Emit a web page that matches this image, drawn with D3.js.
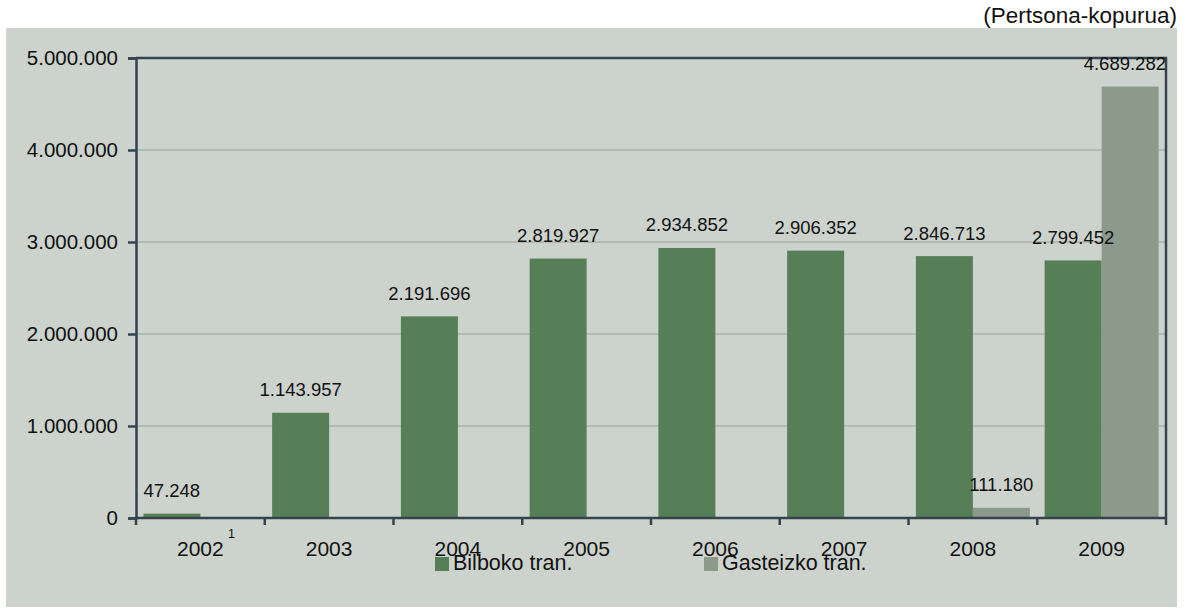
<!DOCTYPE html>
<html>
<head>
<meta charset="utf-8">
<script src="https://cdn.jsdelivr.net/npm/d3@7"></script>
<style>
  html, body { margin: 0; padding: 0; background: #ffffff; }
  svg { display: block; font-family: "Liberation Sans", Arial, sans-serif; }
</style>
</head>
<body>
<svg id="chart" width="1189" height="616"></svg>
<script>
// Tranbia bidaiariak urteka (pertsona-kopurua)
const years = ["2002", "2003", "2004", "2005", "2006", "2007", "2008", "2009"];
const bilbo = [47248, 1143957, 2191696, 2819927, 2934852, 2906352, 2846713, 2799452];
const gasteiz = [null, null, null, null, null, null, 111180, 4689282];
const seriesNames = ["Bilboko tran.", "Gasteizko tran."];
const seriesColors = ["#567e57", "#8b9a8a"];
const yTicks = [0, 1000000, 2000000, 3000000, 4000000, 5000000];

const W = 1189, H = 616;
const plot = { left: 136, right: 1166, top: 58, bottom: 518 };

const locale = d3.formatLocale({ decimal: ",", thousands: ".", grouping: [3], currency: ["", "€"] });
const fmt = locale.format(",d");

const svg = d3.select("#chart");

// chart panel
svg.append("rect")
  .attr("x", 6).attr("y", 28).attr("width", 1171).attr("height", 579)
  .attr("fill", "#ccd3cc");

// units title
svg.append("text")
  .attr("x", 1177).attr("y", 23)
  .attr("text-anchor", "end")
  .attr("font-size", 22.5)
  .attr("fill", "#111")
  .text("(Pertsona-kopurua)");

const x = d3.scaleBand().domain(years).range([plot.left, plot.right]).padding(0);
const xs = d3.scaleBand().domain([0, 1]).range([0, x.bandwidth()]).paddingInner(0).paddingOuter(0.13);
const y = d3.scaleLinear().domain([0, 5000000]).range([plot.bottom, plot.top]);

// horizontal gridlines
svg.append("g")
  .selectAll("line")
  .data(yTicks.filter(t => t > 0 && t < 5000000))
  .join("line")
  .attr("x1", plot.left).attr("x2", plot.right)
  .attr("y1", d => y(d)).attr("y2", d => y(d))
  .attr("stroke", "#9a9f9a").attr("stroke-width", 1);

// bars
const rows = years.map((yr, i) => ({ year: yr, values: [bilbo[i], gasteiz[i]] }));
const barData = rows.flatMap(r => r.values.map((v, s) => ({ year: r.year, s, v })))
  .filter(d => d.v != null);

svg.append("g")
  .selectAll("rect")
  .data(barData)
  .join("rect")
  .attr("x", d => x(d.year) + xs(d.s))
  .attr("width", xs.bandwidth())
  .attr("y", d => y(d.v))
  .attr("height", d => y(0) - y(d.v))
  .attr("fill", d => seriesColors[d.s]);

// frame on top and right
const axisColor = "#35434e";
svg.append("path")
  .attr("d", `M${plot.left},${plot.top}H${plot.right}V${plot.bottom}`)
  .attr("fill", "none").attr("stroke", axisColor).attr("stroke-width", 2.5);

// y axis
const yAxis = svg.append("g")
  .attr("transform", `translate(${plot.left},0)`)
  .call(d3.axisLeft(y).tickValues(yTicks).tickFormat(fmt).tickSize(8).tickPadding(10));
yAxis.select(".domain").attr("stroke", axisColor).attr("stroke-width", 2.5);
yAxis.selectAll(".tick line").attr("stroke", axisColor).attr("stroke-width", 2.5);
yAxis.selectAll(".tick text")
  .attr("font-size", 20.5).attr("fill", "#111")
  .attr("font-family", "Liberation Sans, Arial, sans-serif");

// x axis: ticks on category boundaries
const bounds = years.map(d => x(d)).concat([plot.right]);
svg.append("line")
  .attr("x1", plot.left - 1).attr("x2", plot.right + 1)
  .attr("y1", plot.bottom).attr("y2", plot.bottom)
  .attr("stroke", axisColor).attr("stroke-width", 2.5);
svg.append("g")
  .selectAll("line")
  .data(bounds)
  .join("line")
  .attr("x1", d => d).attr("x2", d => d)
  .attr("y1", plot.bottom).attr("y2", plot.bottom + 7)
  .attr("stroke", axisColor).attr("stroke-width", 2.5);

svg.append("g")
  .selectAll("text")
  .data(years)
  .join("text")
  .attr("x", d => x(d) + x.bandwidth() / 2)
  .attr("y", 556)
  .attr("text-anchor", "middle")
  .attr("font-size", 21)
  .attr("fill", "#111")
  .text(d => d);

// footnote mark next to the first year
svg.append("text")
  .attr("x", x(years[0]) + x.bandwidth() / 2 + 31)
  .attr("y", 538)
  .attr("text-anchor", "middle")
  .attr("font-size", 12.5)
  .attr("fill", "#111")
  .text("1");

// value labels above bars, kept inside the plot area
svg.append("g")
  .selectAll("text")
  .data(barData)
  .join("text")
  .attr("x", d => x(d.year) + xs(d.s) + xs.bandwidth() / 2)
  .attr("y", d => y(d.v) - 16.5)
  .attr("text-anchor", "middle")
  .attr("font-size", 18.5)
  .attr("fill", "#111")
  .text(d => fmt(d.v))
  .each(function () {
    const b = this.getBBox();
    if (b.x + b.width > plot.right) {
      d3.select(this).attr("text-anchor", "end").attr("x", plot.right);
    }
  });

// legend
const legendX = [435, 704];
const legend = svg.append("g")
  .selectAll("g")
  .data(seriesNames)
  .join("g")
  .attr("transform", (d, i) => `translate(${legendX[i]},557)`);
legend.append("rect")
  .attr("width", 14).attr("height", 14)
  .attr("fill", (d, i) => seriesColors[i]);
legend.append("text")
  .attr("x", 18).attr("y", 12.5)
  .attr("font-size", 21.5)
  .attr("fill", "#111")
  .text(d => d);
</script>
</body>
</html>
